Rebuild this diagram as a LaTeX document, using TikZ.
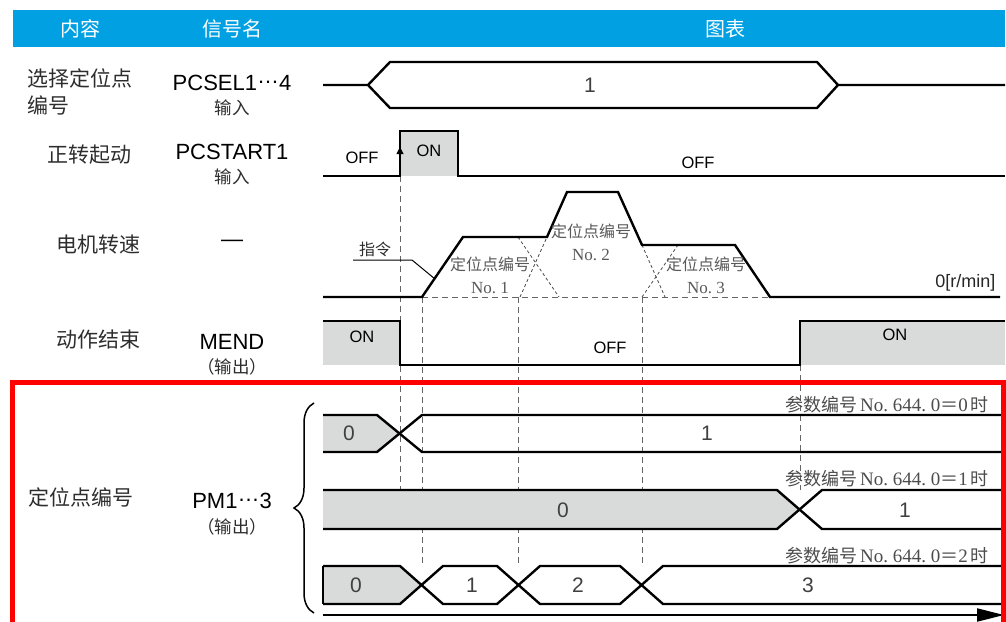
\documentclass[tikz,border=0pt]{standalone}
\usepackage{fontspec}
\setmainfont{Liberation Sans}
\newfontfamily\cjk{Noto Sans CJK SC}
\newfontfamily\serif{Liberation Serif}
\usetikzlibrary{decorations.pathreplacing,arrows.meta}
\definecolor{hdr}{RGB}{0,160,227}
\definecolor{sig}{RGB}{217,219,219}
\definecolor{txt}{RGB}{45,45,45}
\newcommand{\mdots}{\raisebox{0.3em}{…}}
\newcommand{\parlab}[1]{参数编号\,{\serif\fontsize{19}{19}\selectfont No.\ 644.\ 0}＝{\serif\fontsize{19}{19}\selectfont #1}\,时}
\begin{document}
\begin{tikzpicture}[x=1pt,y=-1pt,
  wave/.style={line width=2.4pt, line join=miter},
  guide/.style={line width=0.9pt, black!60, dash pattern=on 6pt off 4pt},
  fine/.style={line width=0.8pt, black!70, dash pattern=on 3pt off 2.5pt},
  head/.style={text=white, font=\cjk\fontsize{20}{20}\selectfont},
  lab/.style={text=txt, font=\cjk\fontsize{21}{27}\selectfont, align=left},
  sname/.style={text=black, font=\fontsize{22}{22}\selectfont},
  sub/.style={text=txt, font=\cjk\fontsize{17.5}{17.5}\selectfont},
  st/.style={text=black, font=\fontsize{16.5}{16.5}\selectfont},
  num/.style={text=black!75, font=\fontsize{21}{21}\selectfont},
  prof/.style={text=black!65, font=\cjk\fontsize{16}{23}\selectfont, align=center},
  par/.style={text=black!70, font=\cjk\fontsize{18}{18}\selectfont, anchor=east, inner sep=0pt},
]
\useasboundingbox (0,0) rectangle (1006,621);
% header
\fill[hdr] (13,10) rectangle (1005,47);
\node[head] (h1) at (80,29) {内容};
\node[head] (h2) at (232,29) {信号名};
\node[head] (h3) at (725,29) {图表};

% left labels
\node[lab, anchor=west] (l1) at (24,92) {选择定位点\\编号};
\node[sname] (s1) at (232,83) {PCSEL1\mdots4};
\node[sub] (i1) at (232,108) {输入};
\node[lab] (l2) at (89,155) {正转起动};
\node[sname] (s2) at (232,152) {PCSTART1};
\node[sub] (i2) at (232,177) {输入};
\node[lab] (l3) at (98,245) {电机转速};
\node[sname] (s3) at (232,243) {—};
\node[lab] (l4) at (98,340) {动作结束};
\node[sname] (s4) at (232,342) {MEND};
\node[sub] (i4) at (232,367) {（输出）};
\node[lab] (l5) at (81,497) {定位点编号};
\node[sname] (s5) at (232,501) {PM1\mdots3};
\node[sub] (i5) at (232,527) {（输出）};

% guide lines
\draw[guide] (400,176) -- (400,490);
\draw[guide] (422,297) -- (422,566);
\draw[guide] (518,297) -- (518,566);
\draw[guide] (642,297) -- (642,566);
\draw[guide] (800,365) -- (800,490);
\draw[guide] (422,297) -- (770,297);

% row 1
\draw[wave] (323,85) -- (368,85) -- (390,62) -- (817,62) -- (838,85) -- (1005,85);
\draw[wave] (368,85) -- (390,108) -- (817,108) -- (838,85);
\node[num] (v1) at (590,85) {1};

% row 2
\fill[sig] (400,131) rectangle (458,176);
\draw[wave] (323,176) -- (400,176) -- (400,131) -- (458,131) -- (458,176) -- (1005,176);
\draw[line width=1pt, -{Triangle[length=7pt,width=7pt]}] (400,165) -- (400,147);
\node[st] (o1) at (362,158) {OFF};
\node[st] (o2) at (429,151) {ON};
\node[st] (o3) at (698,163) {OFF};

% row 3 speed profile
\draw[fine] (520,297) -- (547,237);
\draw[fine] (518,237) -- (559,297);
\draw[fine] (642,245) -- (665,297);
\draw[fine] (642,297) -- (678,245);
\draw[wave] (323,297) -- (422,297) -- (463,237) -- (547,237) -- (567,192) -- (618,192) -- (642,245) -- (735,245) -- (770,297) -- (1000,297);
\draw[line width=1pt] (353,260) -- (412,260) -- (435,279);
\node[text=txt, font=\cjk\fontsize{16}{16}\selectfont] (cmd) at (375,249) {指令};
\node[prof] (p1) at (490,275) {定位点编号\\{\serif\fontsize{17}{17}\selectfont No.\ 1}};
\node[prof] (p2) at (591,242) {定位点编号\\{\serif\fontsize{17}{17}\selectfont No.\ 2}};
\node[prof] (p3) at (706,275) {定位点编号\\{\serif\fontsize{17}{17}\selectfont No.\ 3}};
\node[text=black!85, font=\fontsize{18}{18}\selectfont, anchor=east] (rpm) at (999,283) {0[r/min]};

% row 4
\fill[sig] (323,321) rectangle (400,365);
\fill[sig] (800,321) rectangle (1005,365);
\draw[wave] (323,321) -- (400,321) -- (400,365) -- (800,365) -- (800,321) -- (1005,321);
\node[st] (m1) at (362,337) {ON};
\node[st] (m2) at (610,348) {OFF};
\node[st] (m3) at (895,335) {ON};

% brace
\draw[line width=1.5pt, decorate, decoration={brace, amplitude=20pt}] (314,613) -- (314,403);

% PM row 1
\fill[sig] (323,415) -- (377,415) -- (399.5,433.5) -- (377,452) -- (323,452) -- cycle;
\draw[wave] (323,415) -- (377,415) -- (422,452) -- (1005,452);
\draw[wave] (323,452) -- (377,452) -- (422,415) -- (1005,415);
\node[num] (a0) at (349,433) {0};
\node[num] (a1) at (707,433) {1};
\node[par] (pa) at (989,405) {\parlab{0}};

% PM row 2
\fill[sig] (323,490) -- (777,490) -- (799.5,509.5) -- (777,529) -- (323,529) -- cycle;
\draw[wave] (323,490) -- (777,490) -- (822,529) -- (1005,529);
\draw[wave] (323,529) -- (777,529) -- (822,490) -- (1005,490);
\node[num] (b0) at (563,510) {0};
\node[num] (b1) at (905,510) {1};
\node[par] (pb) at (989,479) {\parlab{1}};

% PM row 3
\fill[sig] (323,566) -- (400,566) -- (421.5,585) -- (400,604) -- (323,604) -- cycle;
\draw[wave] (323,566) -- (400,566) -- (443,604) -- (497,604) -- (540,566) -- (620,566) -- (663,604) -- (1005,604);
\draw[wave] (323,604) -- (400,604) -- (443,566) -- (497,566) -- (540,604) -- (620,604) -- (663,566) -- (1005,566);
\draw[wave] (323,566) -- (323,604);
\node[num] (c0) at (356,585) {0};
\node[num] (c1) at (472,585) {1};
\node[num] (c2) at (578,585) {2};
\node[num] (c3) at (808,585) {3};
\node[par] (pc) at (989,556) {\parlab{2}};

% time axis
\coordinate (t0) at (323,615);
\coordinate (t1) at (1004,615);
\draw[line width=2pt, -{Triangle[length=27pt,width=13pt]}] (t0) -- (t1);

% red frame
\draw[red, line width=5pt] (12.5,640) -- (12.5,382.5) -- (1003.5,382.5) -- (1003.5,640);
\end{tikzpicture}
\end{document}
